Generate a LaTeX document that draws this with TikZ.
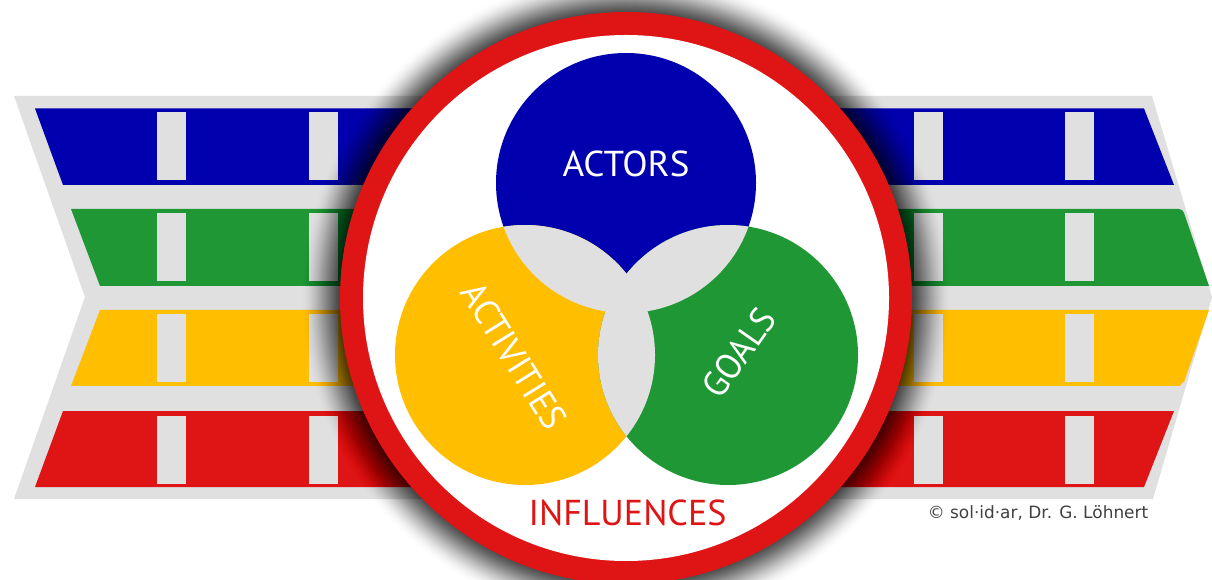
\documentclass[tikz,border=0pt]{standalone}
\usepackage{fontspec}
\usepackage{graphicx}
\setmainfont{PT Sans}
\newfontfamily\notefont{DejaVu Sans}
\definecolor{cblue}{HTML}{0000AE}
\definecolor{cgreen}{HTML}{1F9735}
\definecolor{cyellow}{HTML}{FFBE00}
\definecolor{cred}{HTML}{DF1515}
\definecolor{cgrey}{HTML}{E0E0E0}
\tikzset{
  slot/.style={fill=cgrey,draw=none},
  txt/.style={text=white,inner sep=0pt,font=\fontsize{27}{30}\selectfont},
}
\begin{document}
\begin{tikzpicture}[x=0.75pt,y=-0.75pt]
\useasboundingbox (0,0) rectangle (1212,580);
\fill[white] (0,0) rectangle (1212,580);
% grey arrow background
\fill[cgrey] (14,96) -- (1152,96) -- (1212,297) -- (1153,499) -- (14,499) -- (85,297) -- cycle;
% bands
\fill[cblue] (35,108.5) -- (1144,108.5) -- (1174,185) -- (63,185) -- cycle;
\fill[cgreen] (71,209) -- (1179,209) to[out=0,in=110] (1184,213) -- (1209,286) -- (100,286) -- cycle;
\fill[cyellow] (100,310) -- (1209,310) -- (1184,382) to[out=110,in=0] (1179,386) -- (71,386) -- cycle;
\fill[cred] (63,411) -- (1174,411) -- (1144,487) -- (35,487) -- cycle;
% slots
\foreach \xa/\xb in {157/186,309/338,914/943,1065/1094}{
  \foreach \ya/\yb in {112.5/180.5,213.5/281.5,314.5/382.5,415.5/483.5}{
    \fill[slot] (\xa,\ya) rectangle (\xb,\yb);
  }
}
% soft shadow
\foreach \d in {39,38,...,0}{
  \pgfmathsetmacro{\op}{0.0525*(1-\d/40)}
  \fill[black,opacity=\op] (626,298) circle[radius=286+\d];
}
% medallion
\fill[cred] (626,298) circle[radius=286];
\fill[white] (626,298) circle[radius=263];
% venn circles
\fill[cblue] (626,183) circle[radius=130];
\fill[cyellow] (525,355) circle[radius=130];
\fill[cgreen] (728,355) circle[radius=130];
\begin{scope}
  \clip (626,183) circle[radius=130];
  \fill[cgrey] (525,355) circle[radius=130];
  \fill[cgrey] (728,355) circle[radius=130];
\end{scope}
\begin{scope}
  \clip (525,355) circle[radius=130];
  \fill[cgrey] (728,355) circle[radius=130];
\end{scope}
% labels
\node[txt] (actors) at (626,164) {\scalebox{1.03}[1]{ACTORS}};
\node[txt,rotate=-58] (activities) at (514,356) {\scalebox{0.97}[1]{ACTIVITIES}};
\node[txt,rotate=55] (goals) at (739,353) {\scalebox{0.95}[1]{GOALS}};
\node[txt,text=cred] (influences) at (627.5,513) {INFLUENCES};
\node[inner sep=0pt,text=black!75,font={\notefont\fontsize{12.7}{14}\selectfont}] (credit) at (1038,513) {© sol·id·ar, Dr. G. Löhnert};
\end{tikzpicture}
\end{document}
